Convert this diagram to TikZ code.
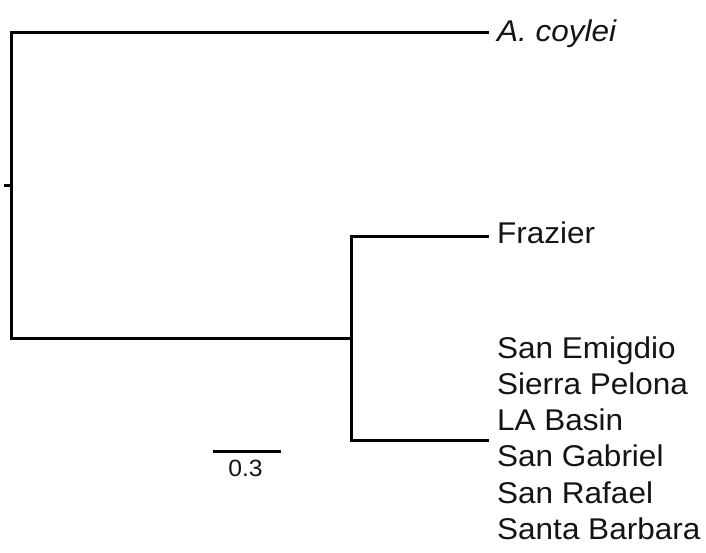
\documentclass[tikz,border=0pt]{standalone}
\usepackage{fontspec}
\setmainfont{Liberation Sans}[FakeStretch=1.05]
\begin{document}
\begin{tikzpicture}[x=1pt,y=-1pt,
  branch/.style={line width=3pt, line cap=rect, color=black},
  taxon/.style={anchor=base west, inner sep=0pt, font=\fontsize{30}{36}\selectfont, text=black!92},
  scalelbl/.style={anchor=base, inner sep=0pt, font=\fontsize{23.5}{28}\selectfont, text=black!92}]
\useasboundingbox (0,0) rectangle (706,552);
% tree coordinates
\coordinate (root) at (11,185);
\coordinate (rootstub) at (5,185);
\coordinate (a0) at (11,32);
\coordinate (b0) at (11,338);
\coordinate (n1) at (351,338);
\coordinate (tA) at (487,32);
\coordinate (tF) at (487,236);
\coordinate (tS) at (487,440);
% labels
\node[taxon] (lA) at (497,41.5) {\itshape A. coylei};
\node[taxon] (lF) at (497,243.5) {Frazier};
\node[taxon] (l1) at (497,358) {San Emigdio};
\node[taxon] (l2) at (497,394.3) {Sierra Pelona};
\node[taxon] (l3) at (497,430.6) {LA Basin};
\node[taxon] (l4) at (497,466.9) {San Gabriel};
\node[taxon] (l5) at (497,503.2) {San Rafael};
\node[taxon] (l6) at (497,539.5) {Santa Barbara};
% branches
\draw[branch] (rootstub) -- (root);
\draw[branch] (tA) -- (a0) -- (b0) -- (n1);
\draw[branch] (tF) -- (n1 |- tF) -- (n1 |- tS) -- (tS);
% scale bar
\coordinate (s0) at (212.5,451);
\coordinate (s1) at (280.5,451);
\draw[line width=3pt, color=black] (s0) -- (s1);
\node[scalelbl] (sl) at (245.5,476.5) {0.3};
\end{tikzpicture}
\end{document}
